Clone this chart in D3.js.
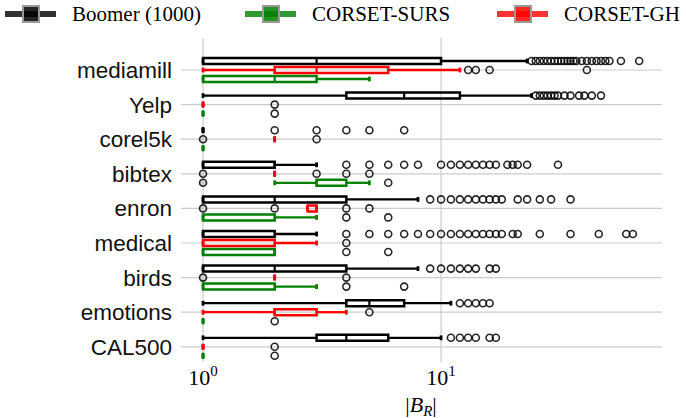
<!DOCTYPE html>
<html>
<head>
<meta charset="utf-8">
<script src="https://cdn.jsdelivr.net/npm/d3@7"></script>
<style>
  body { margin: 0; background: #fff; }
  svg { display: block; }
</style>
</head>
<body>
<div id="chart"></div>
<script>
// datasets, top to bottom
var datasets = ['mediamill', 'Yelp', 'corel5k', 'bibtex', 'enron', 'medical', 'birds', 'emotions', 'CAL500'];
var methods = ['Boomer (1000)', 'CORSET-SURS', 'CORSET-GH'];

// [whisker low, q1, median, q3, whisker high] per dataset
var boomerBox = [
  [1, 1, 3, 10, 23], [1, 4, 7, 12, 24], [1, 1, 1, 1, 1], [1, 1, 2, 2, 3], [1, 1, 2, 4, 8],
  [1, 1, 1, 2, 3], [1, 1, 2, 4, 8], [1, 4, 5, 7, 11], [1, 3, 4, 6, 10]
];
var boomerOut = [
  [24, 25, 26, 27, 28, 29, 30, 31, 32, 33, 34, 35, 36, 37, 39, 41, 43, 45, 47, 49, 51, 57, 68],
  [25, 26, 27, 28, 29, 30, 31, 33, 35, 38, 40, 43, 47],
  [2, 3, 4, 5, 7],
  [4, 5, 6, 7, 8, 10, 11, 12, 13, 14, 15, 16, 17, 19, 20, 21, 23, 31],
  [9, 10, 11, 12, 13, 14, 15, 16, 17, 18, 21, 23, 26, 29, 35],
  [4, 5, 6, 7, 8, 9, 10, 11, 12, 13, 14, 15, 16, 17, 18, 20, 21, 26, 35, 46, 60, 64],
  [9, 10, 11, 12, 13, 14, 16, 17],
  [12, 13, 14, 15, 16],
  [11, 12, 13, 14, 16, 17]
];
var sursBox = [
  [1, 1, 2, 3, 5], [1, 1, 1, 1, 1], [1, 1, 1, 1, 1], [2, 3, 3, 4, 5], [1, 1, 1, 2, 3],
  [1, 1, 1, 2, 2], [1, 1, 1, 2, 3], [1, 1, 1, 1, 1], [1, 1, 1, 1, 1]
];
var sursOut = [[], [2], [], [1, 6], [4, 6], [4, 6], [4, 7], [2], [2]];
var ghBox = [
  [1, 2, 3, 6, 12], [1, 1, 1, 1, 1], [2, 2, 2, 2, 2], [2, 2, 2, 2, 2], [2.75, 2.75, 3, 3, 3],
  [1, 1, 1, 2, 3], [2, 2, 2, 2, 2], [1, 2, 2, 3, 4], [1, 1, 1, 1, 1]
];
var ghOut = [[13, 14, 16, 41], [2], [1, 3], [1, 3, 4, 5], [1, 2, 4, 5], [4], [1, 4], [5], [2]];

var xTicks = [1, 10];

function makeChart() {
  var width = 686, height = 418;
  var left = 181, right = 662;

  var svg = d3.select('#chart').append('svg')
    .attr('width', width)
    .attr('height', height);

  var x = d3.scaleLog()
    .domain([0.808, 84.8])
    .range([left, right]);

  var y = d3.scalePoint()
    .domain(datasets)
    .range([70, 346.8]);

  // grid
  svg.append('g').selectAll('line')
    .data(datasets)
    .enter().append('line')
      .attr('x1', left).attr('x2', right)
      .attr('y1', function(d) { return y(d); })
      .attr('y2', function(d) { return y(d); })
      .attr('stroke', '#cccccc').attr('stroke-width', 1.2);

  svg.append('g').selectAll('line')
    .data(xTicks)
    .enter().append('line')
      .attr('x1', function(d) { return x(d); })
      .attr('x2', function(d) { return x(d); })
      .attr('y1', 38).attr('y2', 362)
      .attr('stroke', '#cccccc').attr('stroke-width', 1.2);

  // category labels
  svg.append('g').selectAll('text')
    .data(datasets)
    .enter().append('text')
      .attr('x', 172)
      .attr('y', function(d) { return y(d) + 8; })
      .attr('text-anchor', 'end')
      .attr('font-family', 'Liberation Sans, Arial, sans-serif')
      .attr('font-size', 22.5)
      .attr('fill', '#111')
      .text(function(d) { return d; });

  // tick labels 10^k
  var tick = svg.append('g').selectAll('text')
    .data(xTicks)
    .enter().append('text')
      .attr('x', function(d) { return x(d); })
      .attr('y', 385)
      .attr('text-anchor', 'middle')
      .attr('font-family', 'Liberation Serif, serif')
      .attr('font-size', 22);
  tick.append('tspan').text('10');
  tick.append('tspan')
    .attr('dy', -9).attr('font-size', 15)
    .text(function(d) { return Math.round(Math.log10(d)); });

  var xl = svg.append('text')
    .attr('x', 421).attr('y', 412)
    .attr('text-anchor', 'middle')
    .attr('font-family', 'Liberation Serif, serif')
    .attr('font-size', 22);
  xl.append('tspan').text('|');
  xl.append('tspan').attr('font-style', 'italic').text('B');
  xl.append('tspan').attr('font-style', 'italic').attr('font-size', 15).attr('dy', 4).text('R');
  xl.append('tspan').attr('dy', -4).text('|');

  var series = [
    { box: boomerBox, out: boomerOut, color: '#000000', dy: -9 },
    { box: ghBox, out: ghOut, color: '#ff0000', dy: 0 },
    { box: sursBox, out: sursOut, color: '#008000', dy: 9 }
  ];
  var bh = 6, cap = 2.4;

  series.forEach(function(s) {
    var g = svg.append('g');
    datasets.forEach(function(name, i) {
      var b = s.box[i];
      var cy = y(name) + s.dy;
      // whiskers
      g.append('line')
        .attr('x1', x(b[0])).attr('x2', x(b[1]))
        .attr('y1', cy).attr('y2', cy)
        .attr('stroke', s.color).attr('stroke-width', 2.3);
      g.append('line')
        .attr('x1', x(b[3])).attr('x2', x(b[4]))
        .attr('y1', cy).attr('y2', cy)
        .attr('stroke', s.color).attr('stroke-width', 2.3);
      [b[0], b[4]].forEach(function(v) {
        g.append('line')
          .attr('x1', x(v)).attr('x2', x(v))
          .attr('y1', cy - cap).attr('y2', cy + cap)
          .attr('stroke', s.color).attr('stroke-width', 2.8);
      });
      // box (path so a zero-width box still shows)
      var x0 = x(b[1]), x1 = x(b[3]), y0 = cy - bh / 2, y1 = cy + bh / 2;
      g.append('path')
        .attr('d', 'M' + x0 + ',' + y0 + 'H' + x1 + 'V' + y1 + 'H' + x0 + 'Z')
        .attr('fill', 'none')
        .attr('stroke', s.color).attr('stroke-width', 2.5)
        .attr('stroke-linejoin', 'miter');
      g.append('line')
        .attr('x1', x(b[2])).attr('x2', x(b[2]))
        .attr('y1', y0).attr('y2', y1)
        .attr('stroke', s.color).attr('stroke-width', 2.2);
      // fliers
      g.selectAll(null)
        .data(s.out[i])
        .enter().append('circle')
          .attr('cx', function(d) { return x(d); })
          .attr('cy', cy)
          .attr('r', 3.5)
          .attr('fill', function(d) { return d === 1 ? '#d0d0d0' : 'none'; })
          .attr('stroke', '#000')
          .attr('stroke-opacity', 0.85)
          .attr('stroke-width', 1.6);
    });
  });

  // legend
  var legendX = [5, 245, 497];
  var legendColors = ['#000000', '#008000', '#ff0000'];
  var lg = svg.append('g').selectAll('g')
    .data(methods)
    .enter().append('g')
      .attr('transform', function(d, i) { return 'translate(' + legendX[i] + ',14)'; });
  lg.append('line')
    .attr('x1', 0).attr('x2', 51)
    .attr('stroke', function(d, i) { return legendColors[i]; })
    .attr('stroke-opacity', 0.8)
    .attr('stroke-width', 6);
  lg.append('rect')
    .attr('x', 18).attr('y', -8)
    .attr('width', 16).attr('height', 16)
    .attr('fill', function(d, i) { return legendColors[i]; })
    .attr('fill-opacity', 0.85)
    .attr('stroke', '#999999')
    .attr('stroke-width', 2);
  lg.append('text')
    .attr('x', 67).attr('y', 7)
    .attr('font-family', 'Liberation Serif, serif')
    .attr('font-size', 21)
    .text(function(d) { return d; });
}

makeChart();
</script>
</body>
</html>
